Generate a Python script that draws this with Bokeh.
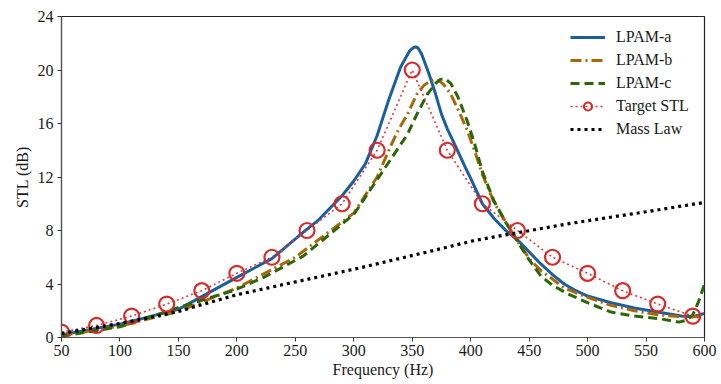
from bokeh.plotting import figure
from bokeh.models import Range1d, SingleIntervalTicker, Legend, LegendItem
from bokeh.embed import file_html
from bokeh.resources import INLINE

# ---- data ----
freq_a = [50, 100, 150, 200, 230, 260, 270, 280, 290, 300, 310, 320, 330, 340, 345, 348, 351, 353,
          355, 358, 364, 370, 375, 380, 386, 395, 400, 410, 420, 430, 440, 450, 460, 470, 480, 490,
          500, 520, 540, 560, 580, 590, 600]
lpam_a = [0.2, 1.0, 2.1, 4.5, 5.9, 8.1, 8.8, 9.7, 10.6, 11.7, 13.0, 15.1, 17.8, 20.2, 21.0, 21.45, 21.68, 21.72,
          21.65, 21.2, 19.8, 18.2, 16.7, 15.6, 14.5, 12.8, 11.9, 10.0, 8.9, 8.0, 7.3, 6.4, 5.5, 4.7, 4.0, 3.5,
          3.1, 2.6, 2.2, 1.9, 1.6, 1.55, 1.8]

freq_b = [50, 100, 150, 200, 250, 300, 320, 331, 338, 346, 354, 360, 365, 369, 373, 377, 383, 391, 397,
          404, 410, 420, 431, 440, 451, 460, 471, 480, 500, 520, 540, 560, 580, 600]
lpam_b = [0.15, 0.85, 1.95, 3.7, 6.0, 9.3, 12.0, 14.2, 15.5, 16.7, 18.2, 18.85, 19.15, 19.3, 19.2, 18.9, 18.2, 16.7, 15.5,
          13.8, 12.2, 10.1, 8.5, 7.2, 5.8, 5.0, 4.3, 3.7, 3.0, 2.4, 2.0, 1.7, 1.55, 1.55]

freq_c = [50, 100, 140, 169, 197, 223, 257, 300, 323, 346, 354, 363, 370, 374, 378, 383, 389, 397, 403,
          410, 420, 430, 440, 450, 460, 470, 483, 500, 520, 540, 562, 578, 585, 590, 595, 600]
lpam_c = [0.1, 0.8, 1.95, 2.77, 3.5, 4.5, 6.1, 9.2, 12.2, 15.2, 16.7, 18.2, 19.0, 19.3, 19.35, 19.0, 18.0, 16.2, 14.6,
          12.4, 10.2, 8.6, 7.2, 5.8, 4.6, 3.9, 3.27, 2.6, 1.9, 1.6, 1.4, 1.15, 1.3, 1.7, 2.7, 4.0]

freq_t = [50, 80, 110, 140, 170, 200, 230, 260, 290, 320, 350, 380, 410, 440, 470, 500, 530, 560, 590]
target = [0.4, 0.9, 1.6, 2.5, 3.5, 4.8, 6.0, 8.0, 10.0, 14.0, 20.0, 14.0, 10.0, 8.0, 6.0, 4.8, 3.5, 2.5, 1.6]

freq_m = [50, 80, 100, 126, 150, 200, 263, 300, 368, 403, 483, 550, 600]
mass_law = [0.3, 0.75, 1.05, 1.5, 1.95, 3.2, 4.4, 5.1, 6.5, 7.25, 8.5, 9.4, 10.1]

x_ticks_interval = 50
y_ticks_interval = 4

FONT = "Liberation Serif"
TXT = "#1a1a1a"

p = figure(width=720, height=383, output_backend="svg", toolbar_location=None,
           x_range=Range1d(50, 600), y_range=Range1d(0, 24),
           min_border_left=61, min_border_top=16, min_border_right=16, min_border_bottom=46)
p.grid.visible = False
p.outline_line_color = "#222222"
p.outline_line_width = 1.2

for ax in (p.xaxis[0], p.yaxis[0]):
    ax.axis_line_color = "#555555"
    ax.axis_line_width = 1.2
    ax.major_tick_line_color = "#333333"
    ax.major_tick_in = 0
    ax.major_tick_out = 4
    ax.minor_tick_line_color = None
    ax.major_label_text_font = FONT
    ax.major_label_text_font_size = "16px"
    ax.major_label_text_color = TXT
    ax.axis_label_text_font = FONT
    ax.axis_label_text_font_size = "16px"
    ax.axis_label_text_font_style = "normal"
    ax.axis_label_text_color = TXT

p.xaxis.ticker = SingleIntervalTicker(interval=x_ticks_interval)
p.yaxis.ticker = SingleIntervalTicker(interval=y_ticks_interval)
p.xaxis.axis_label = "Frequency (Hz)"
p.yaxis.axis_label = "STL (dB)"
p.xaxis.major_label_standoff = 3
p.xaxis.axis_label_standoff = 2
p.yaxis.major_label_standoff = 4
p.yaxis.axis_label_standoff = 4

r_a = p.line(freq_a, lpam_a, line_color="#1c5f9e", line_width=3)
r_b = p.line(freq_b, lpam_b, line_color="#a8680a", line_width=3, line_dash="11 4 2 4")
r_c = p.line(freq_c, lpam_c, line_color="#2b6608", line_width=3, line_dash="9 5")
r_tl = p.line(freq_t, target, line_color="#e0393b", line_width=1.6, line_dash="2 3")
r_tm = p.scatter(freq_t, target, marker="circle", size=15, fill_color=None,
                 line_color="#d62b2b", line_width=2.2)
r_m = p.line(freq_m, mass_law, line_color="black", line_width=3.2, line_dash="3 4")

legend = Legend(items=[
    LegendItem(label="LPAM-a", renderers=[r_a]),
    LegendItem(label="LPAM-b", renderers=[r_b]),
    LegendItem(label="LPAM-c", renderers=[r_c]),
    LegendItem(label="Target STL", renderers=[r_tl, r_tm]),
    LegendItem(label="Mass Law", renderers=[r_m]),
], location=(509, 198))
legend.border_line_alpha = 0
legend.background_fill_alpha = 0
legend.padding = 0
legend.margin = 0
legend.spacing = 3
legend.glyph_width = 35
legend.glyph_height = 20
legend.label_height = 20
legend.label_standoff = 11
legend.label_text_font = FONT
legend.label_text_font_size = "16px"
legend.label_text_color = TXT
p.add_layout(legend, "center")

open("out.html", "w").write(file_html(p, INLINE))
